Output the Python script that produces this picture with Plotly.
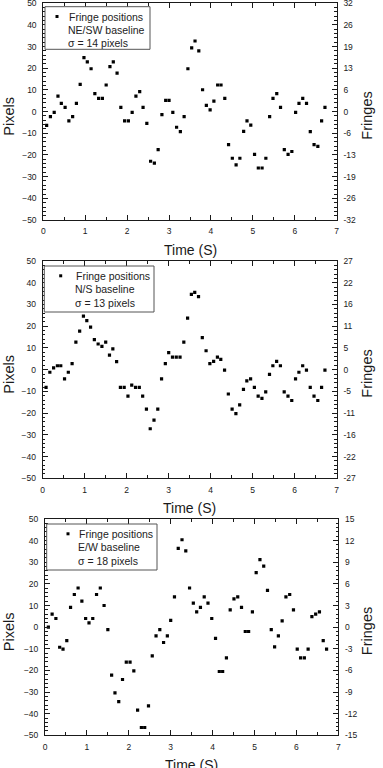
import plotly.graph_objects as go

# ---------------- data ----------------
time_s = [0.08, 0.17, 0.26, 0.35, 0.43, 0.52, 0.61, 0.70, 0.79, 0.88,
          0.97, 1.05, 1.14, 1.23, 1.32, 1.41, 1.50, 1.59, 1.67, 1.76,
          1.85, 1.94, 2.03, 2.12, 2.21, 2.30, 2.38, 2.47, 2.56, 2.65,
          2.74, 2.83, 2.92, 3.00, 3.09, 3.18, 3.27, 3.36, 3.45, 3.54,
          3.62, 3.71, 3.80, 3.89, 3.98, 4.07, 4.16, 4.24, 4.33, 4.42,
          4.51, 4.60, 4.69, 4.78, 4.86, 4.95, 5.04, 5.13, 5.22, 5.31,
          5.40, 5.48, 5.57, 5.66, 5.75, 5.84, 5.93, 6.02, 6.10, 6.19,
          6.28, 6.37, 6.46, 6.55, 6.64, 6.72]

ne_sw_pixels = [-6.3, -2.3, -0.3, 7.2, 3.8, 2.0, -4.3, -2.3, 3.8, 12.6,
                24.9, 23.0, 19.8, 8.3, 6.1, 6.1, 12.3, 20.8, 23.0, 17.8,
                2.0, -4.3, -4.3, -0.3, 7.2, 9.2, 2.0, -5.4, -22.9, -23.8,
                -17.5, -1.4, 5.2, 5.2, -0.3, -7.2, -9.2, -2.3, 19.8, 29.4,
                32.6, 28.0, 10.1, 2.9, 0.8, 4.9, 12.3, 12.3, 6.1, -15.2,
                -21.5, -24.6, -21.5, -9.1, -4.3, -6.2, -19.7, -26.0, -26.0, -21.5,
                -2.3, 6.1, 8.3, 2.0, -17.5, -19.7, -18.4, -0.3, 3.8, 6.1,
                3.8, -9.2, -15.2, -16.0, -4.3, 2.0]

n_s_pixels = [-8.2, -1.2, 0.8, 1.8, 1.8, -4.2, -1.2, 2.8, 12.7, 17.7,
              24.6, 22.6, 19.6, 13.8, 11.8, 10.7, 12.7, 6.7, 9.6, 3.7,
              -8.2, -8.2, -12.2, -7.1, -8.2, -8.2, -12.2, -18.2, -27.2, -23.2,
              -18.2, -4.2, 2.8, 7.8, 5.8, 5.8, 5.8, 12.7, 23.7, 34.6,
              35.6, 33.6, 14.7, 8.7, 2.8, 3.8, 5.8, 4.7, -0.2, -11.2,
              -18.2, -20.2, -16.2, -9.1, -5.2, -4.2, -8.2, -12.2, -13.2, -10.2,
              -2.2, 1.8, 3.8, 1.8, -10.2, -12.2, -14.2, -4.2, -1.2, 1.8,
              -0.2, -8.2, -12.2, -14.2, -8.2, -0.2]

e_w_pixels = [0.0, 6.0, 4.0, -9.3, -10.2, -6.2, 9.1, 15.1, 18.1, 12.0,
              4.0, 2.0, 4.0, 15.1, 18.1, 10.0, -1.1, -22.2, -30.4, -34.4,
              -24.2, -16.2, -16.2, -20.2, -38.4, -46.4, -46.4, -36.4, -13.3, -4.0,
              -1.1, -7.1, -4.0, 3.1, 14.0, 36.4, 40.4, 35.3, 18.1, 11.1,
              7.1, 9.1, 14.0, 11.1, 4.0, -5.2, -20.5, -20.5, -14.2, 8.0,
              13.1, 14.0, 9.1, -2.0, -2.0, 7.1, 25.2, 31.2, 28.2, 17.0,
              -1.1, -9.1, -4.0, 2.9, 14.0, 15.1, 8.0, -10.2, -14.2, -14.2,
              -10.2, 4.9, 6.0, 7.1, -6.2, -10.2]

pixel_ticks = [-50, -40, -30, -20, -10, 0, 10, 20, 30, 40, 50]
time_ticks = [0, 1, 2, 3, 4, 5, 6, 7]
fringe_labels_ne_sw = ["-32", "-26", "-19", "-13", "-6", "0", "6", "13", "19", "26", "32"]
fringe_labels_n_s = ["-27", "-22", "-16", "-11", "-5", "0", "5", "11", "16", "22", "27"]
fringe_labels_e_w = ["-15", "-12", "-9", "-6", "-3", "0", "3", "6", "9", "12", "15"]

series = [ne_sw_pixels, n_s_pixels, e_w_pixels]
fringe_labels = [fringe_labels_ne_sw, fringe_labels_n_s, fringe_labels_e_w]
legend_title = "Fringe positions"
baselines = ["NE/SW baseline", "N/S baseline", "E/W baseline"]
sigmas = ["σ = 14 pixels", "σ = 13 pixels", "σ = 18 pixels"]

# ---------------- layout geometry (pixels) ----------------
W, H = 383, 768
panels = [  # left, right, top, bottom
    (43.3, 336.7, 3.3, 220.0),
    (42.7, 336.7, 261.0, 478.3),
    (45.0, 338.3, 519.0, 735.3),
]
legend_boxes = [  # x0, x1, y0, y1, marker x, text x
    (45.0, 150.0, 6.7, 49.3, 57.0, 67.0),
    (44.3, 154.0, 266.0, 312.0, 60.7, 74.0),
    (46.7, 157.0, 524.0, 570.0, 68.0, 77.0),
]

def px(x):
    return x / W

def py(y):
    return 1 - y / H

FONT = "Liberation Sans, Arial, sans-serif"
INK = "#1a1a1a"

fig = go.Figure()
layout = dict(
    width=W, height=H,
    margin=dict(l=0, r=0, t=0, b=0),
    paper_bgcolor="white", plot_bgcolor="white",
    showlegend=False,
    font=dict(family=FONT, color=INK),
)
shapes = []
annotations = []

for i in range(3):
    xl, xr, yt, yb = panels[i]
    xn = "" if i == 0 else str(i + 1)
    yn = "" if i == 0 else str(i + 1)
    yr = str(i + 4)

    fig.add_trace(go.Scatter(
        x=time_s, y=series[i], mode="markers",
        marker=dict(symbol="square", size=3.2, color="#000000"),
        xaxis="x" + xn, yaxis="y" + yn, showlegend=False,
    ))
    fig.add_trace(go.Scatter(
        x=[None], y=[None], mode="markers",
        xaxis="x" + xn, yaxis="y" + yr, showlegend=False,
    ))

    common_tick = dict(
        ticks="inside", ticklen=5, tickwidth=1, tickcolor=INK,
        showline=True, linecolor=INK, linewidth=1,
        showgrid=False, zeroline=False,
        tickfont=dict(size=8.5, family=FONT, color=INK),
        automargin=False, fixedrange=True, ticklabeloverflow="allow",
    )

    layout["xaxis" + xn] = dict(
        common_tick,
        domain=[px(xl), px(xr)], anchor="y" + yn,
        range=[0, 7], tickmode="array", tickvals=time_ticks,
        mirror="ticks", ticklabelstandoff=3,
        minor=dict(ticks="inside", ticklen=3, tickcolor=INK, dtick=0.5, tick0=0, showgrid=False),
    )
    layout["yaxis" + yn] = dict(
        common_tick,
        domain=[py(yb), py(yt)], anchor="x" + xn,
        range=[-50, 50], tickmode="array", tickvals=pixel_ticks,
        ticklabelstandoff=4,
        minor=dict(ticks="inside", ticklen=2.5, tickcolor=INK, dtick=2, tick0=0, showgrid=False),
    )
    layout["yaxis" + yr] = dict(
        common_tick,
        overlaying="y" + yn, side="right", anchor="x" + xn,
        range=[-50, 50], tickmode="array", tickvals=pixel_ticks,
        ticktext=fringe_labels[i], ticklabelstandoff=4,
        minor=dict(ticks="inside", ticklen=2.5, tickcolor=INK, dtick=2, tick0=0, showgrid=False),
    )

    # axis titles
    annotations.append(dict(
        text="Time (S)", xref="paper", yref="paper",
        x=px((xl + xr) / 2), y=py(yb + 30), xanchor="center", yanchor="middle",
        showarrow=False, font=dict(size=14, family=FONT, color=INK),
    ))
    annotations.append(dict(
        text="Pixels", xref="paper", yref="paper",
        x=px(9), y=py((yt + yb) / 2 + 5), xanchor="center", yanchor="middle",
        textangle=-90, showarrow=False, font=dict(size=14.5, family=FONT, color=INK),
    ))
    annotations.append(dict(
        text="Fringes", xref="paper", yref="paper",
        x=px(367), y=py((yt + yb) / 2 + 4), xanchor="center", yanchor="middle",
        textangle=-90, showarrow=False, font=dict(size=14.5, family=FONT, color=INK),
    ))

    # legend box
    bx0, bx1, by0, by1, mx, tx = legend_boxes[i]
    shapes.append(dict(
        type="rect", xref="paper", yref="paper",
        x0=px(bx0), x1=px(bx1), y0=py(by1), y1=py(by0),
        line=dict(color="#555555", width=1), fillcolor="white", layer="above",
    ))
    l1 = by0 + 9.8
    shapes.append(dict(
        type="rect", xref="paper", yref="paper",
        x0=px(mx - 1.5), x1=px(mx + 1.5), y0=py(l1 + 1.5), y1=py(l1 - 1.5),
        line=dict(width=0), fillcolor="#000000", layer="above",
    ))
    lines = [legend_title, baselines[i], sigmas[i]]
    for k, txt in enumerate(lines):
        annotations.append(dict(
            text=txt, xref="paper", yref="paper",
            x=px(tx if k == 0 else tx - 1), y=py(l1 + 13.4 * k),
            xanchor="left", yanchor="middle", showarrow=False,
            font=dict(size=10.5, family=FONT, color="#222222"),
        ))

layout["shapes"] = shapes
layout["annotations"] = annotations
fig.update_layout(**layout)
fig.write_html("out.html")
